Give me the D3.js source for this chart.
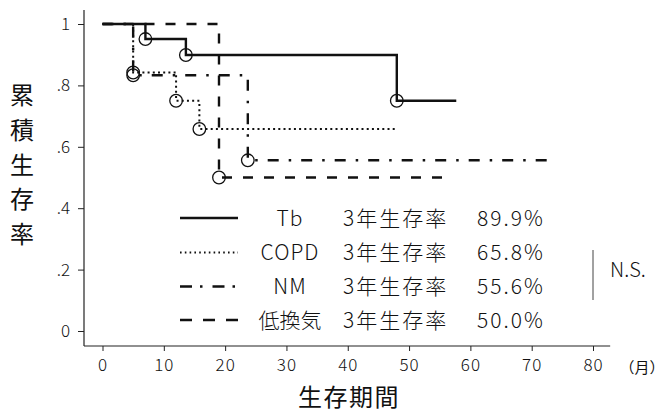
<!DOCTYPE html>
<html>
<head>
<meta charset="utf-8">
<script src="https://cdn.jsdelivr.net/npm/d3@7"></script>
<style>
  html, body { margin: 0; padding: 0; background: #fff; }
  svg { display: block; }
  text { fill: #111; }
</style>
</head>
<body>
<svg id="chart" width="669" height="412"></svg>
<script>
// Kaplan–Meier survival curves by underlying disease
const xTicks = [0, 10, 20, 30, 40, 50, 60, 70, 80];
const yTicks = [0, 0.2, 0.4, 0.6, 0.8, 1];
const yTickLabels = ["0", ".2", ".4", ".6", ".8", "1"];

// event times (months) and survival after each event, plus end of follow-up
const tbTimes = [7, 13.6, 48];
const tbSurv = [0.951, 0.899, 0.75];
const tbEnd = 57.7;

const copdTimes = [5, 12, 15.8];
const copdSurv = [0.842, 0.75, 0.658];
const copdEnd = 47.7;

const nmTimes = [5, 23.7];
const nmSurv = [0.833, 0.556];
const nmEnd = 74;

const hvTimes = [19];
const hvSurv = [0.5];
const hvEnd = 56.5;

const seriesNames = ["Tb", "COPD", "NM", "低換気"];
const threeYearRates = ["89.9%", "65.8%", "55.6%", "50.0%"];

const FONT = "'Noto Sans CJK JP', 'Noto Sans', sans-serif";
const svg = d3.select("#chart");

const x = d3.scaleLinear().domain([0, 80]).range([102.5, 593]);
const y = d3.scaleLinear().domain([0, 1]).range([331, 24]);

const styles = [
  { dash: null, width: 2.4 },
  { dash: "2,3.2", width: 2 },
  { dash: "11,10,2.5,10", width: 2.4 },
  { dash: "10,11", width: 2.4 }
];
const legendDash = [null, "1.6,3.2", "12,8,2.5,10", "12,11"];

const series = [
  { times: tbTimes, surv: tbSurv, end: tbEnd },
  { times: copdTimes, surv: copdSurv, end: copdEnd },
  { times: nmTimes, surv: nmSurv, end: nmEnd },
  { times: hvTimes, surv: hvSurv, end: hvEnd }
];

// axes lines
const axisColor = "#222";
svg.append("line")
  .attr("x1", 84).attr("x2", 84)
  .attr("y1", y(1.046)).attr("y2", 346)
  .attr("stroke", axisColor).attr("stroke-width", 1.2);
svg.append("line")
  .attr("x1", 84).attr("x2", x(82.8))
  .attr("y1", 346).attr("y2", 346)
  .attr("stroke", axisColor).attr("stroke-width", 1.2);

// y axis ticks and labels
const yAxis = svg.append("g").attr("transform", "translate(84,0)")
  .call(d3.axisLeft(y).tickValues(yTicks).tickSize(6)
    .tickFormat((d, i) => yTickLabels[i]));
yAxis.select(".domain").remove();
yAxis.selectAll(".tick line").attr("stroke", axisColor).attr("stroke-width", 1);
yAxis.selectAll(".tick text")
  .attr("x", -14)
  .style("font-family", FONT).style("font-size", "17px").style("font-weight", 300)
  .attr("fill", "#222");

// x axis ticks and labels
const xAxis = svg.append("g").attr("transform", "translate(0,346)")
  .call(d3.axisBottom(x).tickValues(xTicks).tickSize(5).tickFormat(d3.format("d")));
xAxis.select(".domain").remove();
xAxis.selectAll(".tick line").attr("stroke", axisColor).attr("stroke-width", 1);
xAxis.selectAll(".tick text")
  .attr("y", 13)
  .style("font-family", FONT).style("font-size", "17px").style("font-weight", 300)
  .attr("letter-spacing", 1)
  .attr("fill", "#222");

svg.append("text")
  .attr("x", 642).attr("y", 373)
  .attr("text-anchor", "middle")
  .style("font-family", FONT).style("font-size", "15px")
  .text("（月）");

// axis titles
const yTitle = "累積生存率".split("");
svg.append("g").selectAll("text").data(yTitle).join("text")
  .attr("x", 22)
  .attr("y", (d, i) => 104 + i * 34.8)
  .attr("text-anchor", "middle")
  .style("font-family", FONT).style("font-size", "24px").style("font-weight", 400)
  .text(d => d);

svg.append("text")
  .attr("x", 349).attr("y", 406)
  .attr("text-anchor", "middle")
  .style("font-family", FONT).style("font-size", "24px").style("font-weight", 400)
  .attr("letter-spacing", 1.5)
  .text("生存期間");

// survival step curves
const line = d3.line().curve(d3.curveStepAfter).x(d => x(d[0])).y(d => y(d[1]));
const order = [3, 2, 1, 0];
order.forEach(k => {
  const s = series[k];
  const pts = [[0, 1]];
  s.times.forEach((t, i) => pts.push([t, s.surv[i]]));
  pts.push([s.end, s.surv[s.surv.length - 1]]);
  svg.append("path")
    .attr("d", line(pts))
    .attr("fill", "none")
    .attr("stroke", "#111")
    .attr("stroke-width", styles[k].width)
    .attr("stroke-dasharray", styles[k].dash);
  // drop-out markers
  svg.append("g").selectAll("circle")
    .data(s.times.map((t, i) => [t, s.surv[i]]))
    .join("circle")
    .attr("cx", d => x(d[0]))
    .attr("cy", d => y(d[1]))
    .attr("r", 6.3)
    .attr("fill", "none")
    .attr("stroke", "#111")
    .attr("stroke-width", 1.3);
});

// legend
const rowY = [218, 252.5, 286.5, 320];
const legend = svg.append("g");
seriesNames.forEach((name, i) => {
  legend.append("line")
    .attr("x1", 180).attr("x2", 238)
    .attr("y1", rowY[i]).attr("y2", rowY[i])
    .attr("stroke", "#111")
    .attr("stroke-width", i === 1 ? 1.8 : 2.6)
    .attr("stroke-dasharray", legendDash[i]);
  legend.append("text")
    .attr("x", 290).attr("y", rowY[i] + 7.5)
    .attr("text-anchor", "middle")
    .style("font-family", FONT).style("font-size", "21px").style("font-weight", 300)
    .attr("letter-spacing", i === 3 ? 0 : 1)
    .text(name);
  legend.append("text")
    .attr("x", 343).attr("y", rowY[i] + 7.5)
    .style("font-family", FONT).style("font-size", "21px").style("font-weight", 300)
    .attr("letter-spacing", 2)
    .text("3年生存率");
  legend.append("text")
    .attr("x", 477).attr("y", rowY[i] + 7.5)
    .style("font-family", FONT).style("font-size", "21px").style("font-weight", 300)
    .attr("letter-spacing", 2)
    .text(threeYearRates[i]);
});

// significance bracket
svg.append("line")
  .attr("x1", 593).attr("x2", 593).attr("y1", 250).attr("y2", 300)
  .attr("stroke", "#444").attr("stroke-width", 1);
svg.append("text")
  .attr("x", 610).attr("y", 277)
  .style("font-family", FONT).style("font-size", "20px").style("font-weight", 300)
  .text("N.S.");
</script>
</body>
</html>
